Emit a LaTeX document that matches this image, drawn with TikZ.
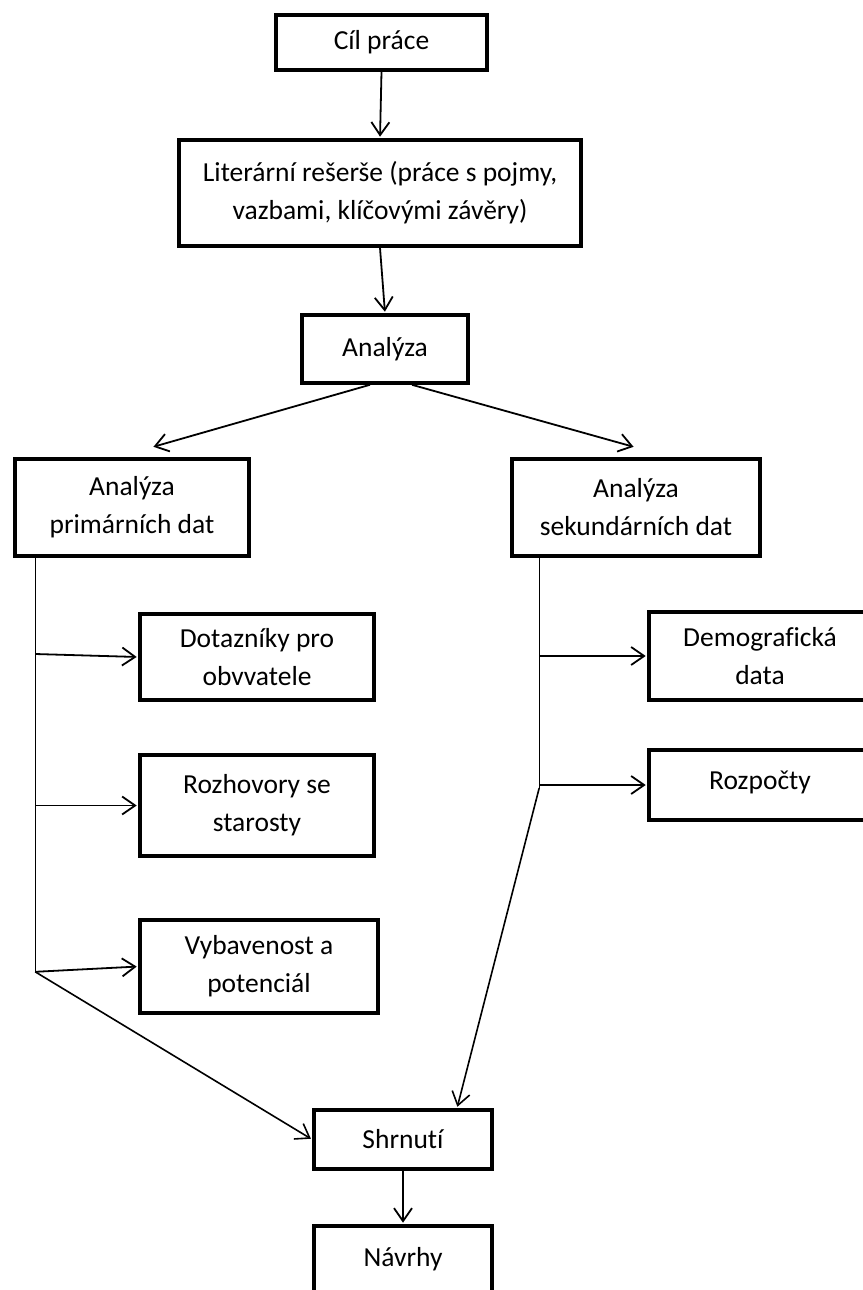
\documentclass[tikz,border=0pt]{standalone}
\usepackage{fontspec}
\setmainfont{Carlito}[Ligatures=NoCommon]
\usetikzlibrary{arrows.meta,calc}
\begin{document}
\begin{tikzpicture}[x=1pt,y=-1pt,
  box/.style={draw, line width=3.6pt, rectangle, inner sep=0pt, align=center,
              font=\fontsize{27.5}{38}\selectfont},
  arr/.style={line width=1.8pt, -{Straight Barb[length=13pt,width=18pt]}, shorten >=1.5pt},
  trunk/.style={line width=1.3pt},
  diag/.style={line width=1.6pt, -{Straight Barb[length=13pt,width=18pt]}, shorten >=1.5pt}]
\useasboundingbox (0,0) rectangle (862,1290);
\node[box, minimum width=211pt, minimum height=55pt]  (cil)  at (381.5,42.5) {Cíl práce};
\node[box, minimum width=402pt, minimum height=106pt] (lit)  at (380,193) {Literární rešerše (práce s pojmy,\\vazbami, klíčovými závěry)};
\node[box, minimum width=166pt, minimum height=68pt]  (ana)  at (385,349) {Analýza};
\node[box, minimum width=234pt, minimum height=97pt]  (prim) at (132,507.5) {Analýza\\primárních dat};
\node[box, minimum width=248pt, minimum height=97pt]  (sek)  at (636,507.5) {Analýza\\sekundárních dat};
\node[box, minimum width=234pt, minimum height=86pt]  (dot)  at (257,657) {Dotazníky pro\\obvvatele};
\node[box, minimum width=234pt, minimum height=101pt] (roz)  at (257,805.5) {Rozhovory se\\starosty};
\node[box, minimum width=238pt, minimum height=93pt]  (vyb)  at (259,966.5) {Vybavenost a\\potenciál};
\node[box, minimum width=222pt, minimum height=88pt]  (demo) at (760,656) {Demografická\\data};
\node[box, minimum width=222pt, minimum height=70pt, text depth=12pt, text height=21pt]  (rozp) at (760,785) {Rozpočty};
\node[box, minimum width=178pt, minimum height=59pt]  (shr)  at (403,1139.5) {Shrnutí};
\node[box, minimum width=178pt, minimum height=66pt]  (nav)  at (403,1259) {Návrhy};
% main chain
\draw[arr] (cil.south) -- (lit.north);
\draw[arr] (lit.south) -- (ana.north);
\draw[arr] ($(ana.south)+(-15,0)$) -- ($(prim.north)+(20,-10)$);
\draw[arr] ($(ana.south)+(27,0)$) -- ($(sek.north)+(-1,-10)$);
% primary trunk
\coordinate (pt) at ($(prim.south west)+(22,0)$);
\coordinate (pj) at ($(pt)+(0,414)$);
\draw[trunk] (pt) -- (pj);
\draw[arr] ($(pt |- dot.west)+(0,-3)$) -- (dot.west);
\draw[arr] (pt |- roz.west) -- (roz.west);
\draw[arr] (pj) -- (vyb.west);
\draw[diag] (pj) -- (shr.west);
% secondary trunk
\coordinate (st) at ($(sek.south west)+(29,0)$);
\coordinate (sj) at (st |- rozp.west);
\draw[trunk] (st) -- ($(sj)+(0,3)$);
\draw[arr] (st |- demo.west) -- (demo.west);
\draw[arr] (sj) -- (rozp.west);
\draw[diag] ($(sj)+(0,3)$) -- ($(shr.north)+(54,0)$);
% bottom
\draw[arr] (shr.south) -- (nav.north);
\end{tikzpicture}
\end{document}
